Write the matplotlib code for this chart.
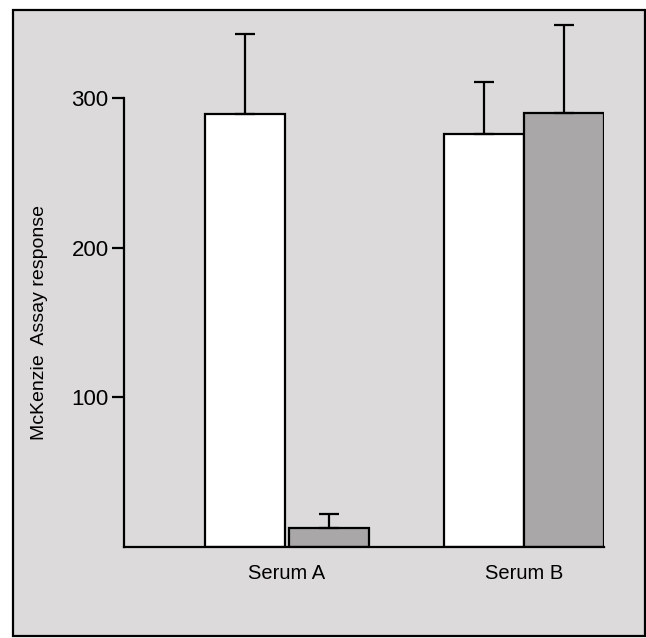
import numpy as np
import matplotlib.pyplot as plt
from matplotlib.patches import Rectangle

groups = ['Serum A', 'Serum B']
white_vals = [289, 276]
white_err = [54, 35]
gray_vals = [13, 290]
gray_err = [9, 59]
yticks = [100, 200, 300]

plt.rcParams['font.family'] = ['Liberation Sans', 'DejaVu Sans']

fig = plt.figure(figsize=(6.46, 6.38), dpi=100)
fig.patch.set_facecolor('white')
W, H = 646, 638

# scanned page frame
fig.patches.append(Rectangle((13 / W, 2 / H), 632 / W, 626 / H, transform=fig.transFigure,
                             facecolor='#dcdada', edgecolor='black', linewidth=1.6, zorder=-10))

ax = fig.add_axes([124 / W, 91 / H, 480 / W, 355 * 1.4967 / H])
ax.set_facecolor('none')
ax.set_zorder(5)

x = np.arange(len(groups))
w = 0.338
err_kw = dict(ecolor='black', elinewidth=1.6, capsize=7.5, capthick=1.6)
ax.bar(x - w / 2 - 0.01 * (x == 0), white_vals, w, color='white', edgecolor='black', linewidth=1.6,
       yerr=[np.zeros(2), white_err], error_kw=err_kw, zorder=2)
ax.bar(x + w / 2 + 0.01 * (x == 0), gray_vals, w, color='#a9a7a7', edgecolor='black', linewidth=1.6,
       yerr=[np.zeros(2), gray_err], error_kw=err_kw, zorder=2)

ax.set_xlim(-0.688, 1.338)
ax.set_ylim(0, 355)
ax.set_yticks(yticks)
ax.set_yticklabels([str(t) for t in yticks], fontsize=16)
ax.set_xticks(x)
ax.set_xticklabels(groups, fontsize=14.5)
ax.tick_params(axis='x', length=0, pad=12)
ax.tick_params(axis='y', length=9, width=1.6, pad=2)
for s in ['top', 'right']:
    ax.spines[s].set_visible(False)
for s in ['left', 'bottom']:
    ax.spines[s].set_linewidth(1.6)
ax.spines['left'].set_bounds(0, 300)
ax.set_ylabel('McKenzie  Assay response', fontsize=14)
ax.yaxis.set_label_coords(-0.158, 150 / 355)

fig.savefig('out.png', dpi=100)
